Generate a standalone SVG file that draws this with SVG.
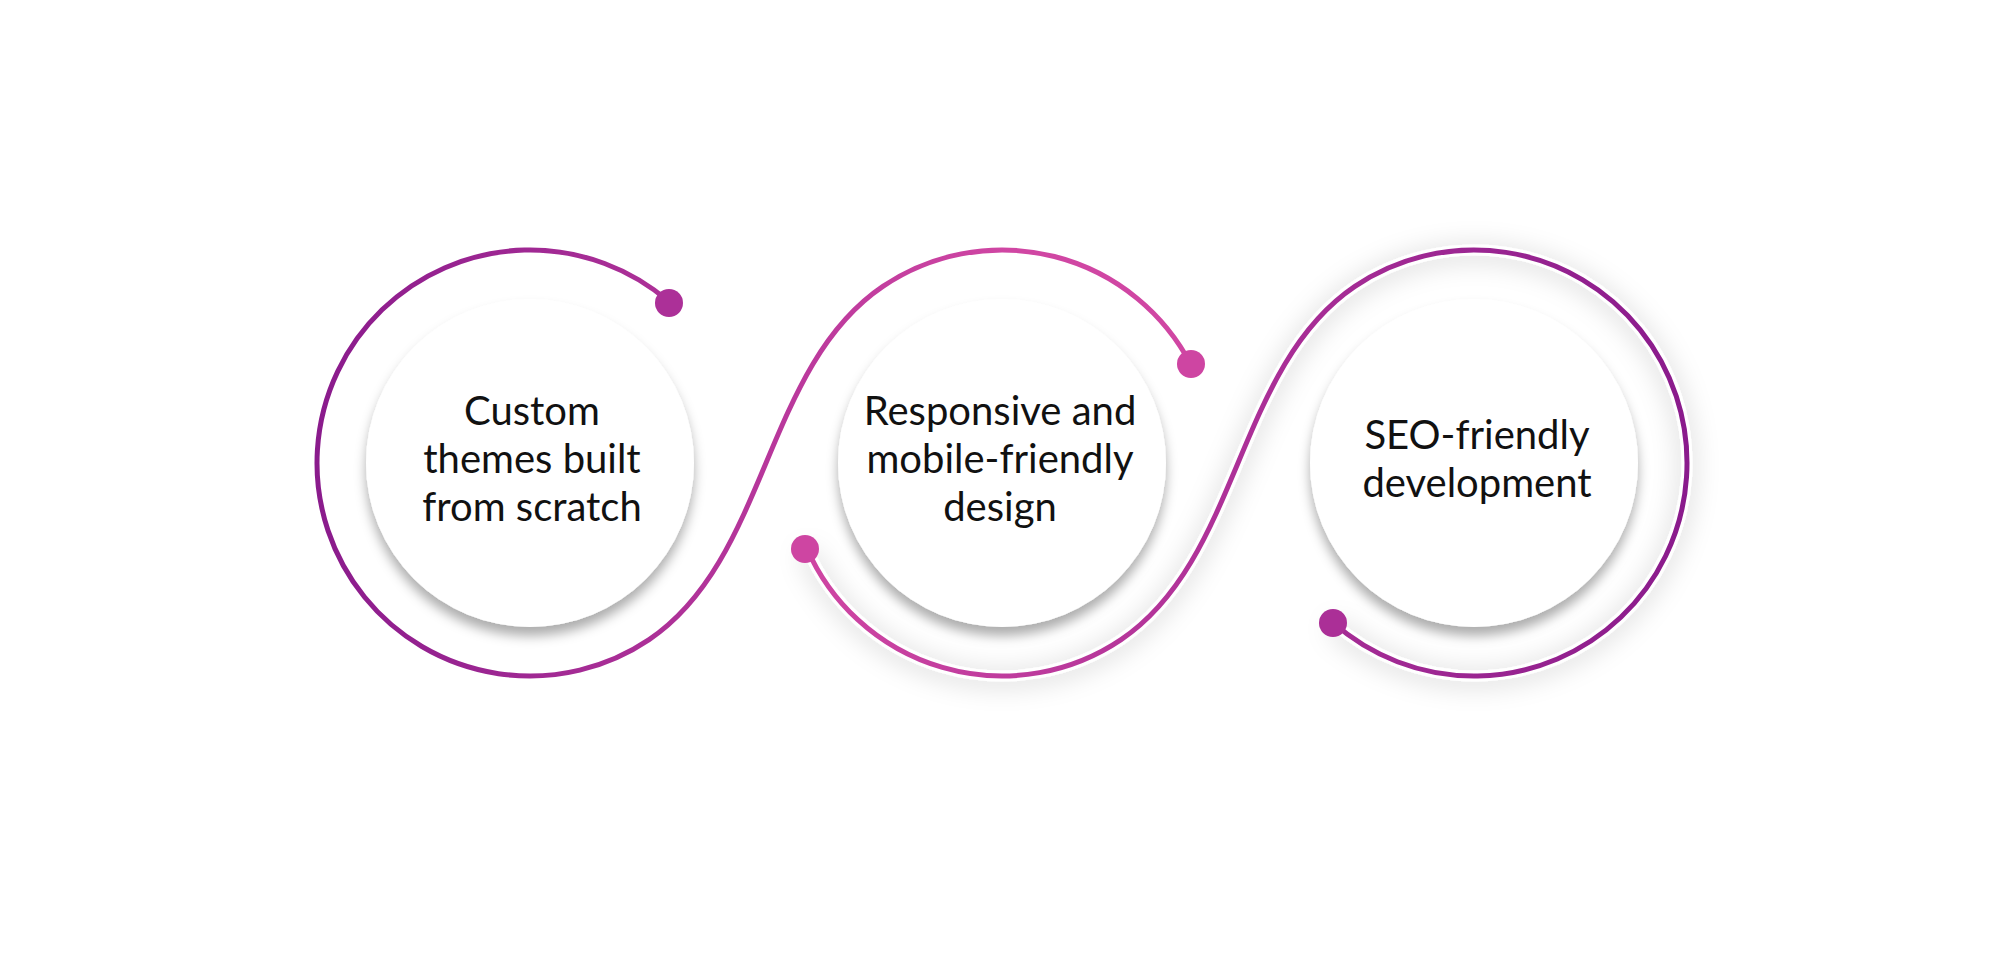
<svg xmlns="http://www.w3.org/2000/svg" width="2000" height="964" viewBox="0 0 2000 964">
  <defs>
    <linearGradient id="gA" gradientUnits="userSpaceOnUse" x1="316" y1="0" x2="1010" y2="0">
      <stop offset="0" stop-color="#8A1B8C"/>
      <stop offset="1" stop-color="#D046A3"/>
    </linearGradient>
    <linearGradient id="gB" gradientUnits="userSpaceOnUse" x1="790" y1="0" x2="1687" y2="0">
      <stop offset="0" stop-color="#D046A3"/>
      <stop offset="1" stop-color="#8A1B8C"/>
    </linearGradient>
    <filter id="circleShadow" x="-30%" y="-30%" width="160%" height="160%">
      <feDropShadow dx="0" dy="9" stdDeviation="6" flood-color="#000" flood-opacity="0.32"/>
    </filter>
    <filter id="ribbonShadow" filterUnits="userSpaceOnUse" x="700" y="180" width="1060" height="580">
      <feDropShadow dx="0" dy="3" stdDeviation="13" flood-color="#000" flood-opacity="0.2"/>
    </filter>
    <style>
      .inner { fill: #ffffff; filter: url(#circleShadow); }
      .line { fill: none; stroke-width: 5; stroke-linecap: round; }
      .ribbon { fill: none; stroke: #ffffff; stroke-width: 11; filter: url(#ribbonShadow); }
      .label { font-family: Lato, "Open Sans", "Liberation Sans", sans-serif; font-size: 40px; fill: #111111; text-anchor: middle; }
    </style>
  </defs>

  <rect width="2000" height="964" fill="#ffffff"/>

  <!-- soft shadowed ribbon under the second connector -->
  <path class="ribbon" d="M806.7,547.9 A213,213 0 0 0 1121.1,639.6 C1240.5,559.1 1235.5,366.9 1354.9,286.4 A213,213 0 1 1 1332.5,622.2"/>

  <g id="node1">
    <circle class="inner" cx="530" cy="463" r="164"/>
    <text class="label" x="532" y="425">Custom</text>
    <text class="label" x="532" y="473">themes built</text>
    <text class="label" x="532" y="521">from scratch</text>
  </g>

  <g id="node2">
    <circle class="inner" cx="1002" cy="463" r="164"/>
    <text class="label" x="1000" y="425">Responsive and</text>
    <text class="label" x="1000" y="473">mobile-friendly</text>
    <text class="label" x="1000" y="521">design</text>
  </g>

  <g id="node3">
    <circle class="inner" cx="1474" cy="463" r="164"/>
    <text class="label" x="1477" y="449">SEO-friendly</text>
    <text class="label" x="1477" y="497">development</text>
  </g>

  <g id="connectors">
    <path class="line" stroke="url(#gA)" d="M669.7,302.2 A213,213 0 1 0 649.1,639.6 C768.5,559.1 763.5,366.9 882.9,286.4 A213,213 0 0 1 1190.9,364.6"/>
    <circle cx="669" cy="303" r="14" fill="#AC3098"/>
    <circle cx="1191" cy="364" r="14" fill="#CE45A2"/>
    <path class="line" stroke="url(#gB)" d="M806.7,547.9 A213,213 0 0 0 1121.1,639.6 C1240.5,559.1 1235.5,366.9 1354.9,286.4 A213,213 0 1 1 1332.5,622.2"/>
    <circle cx="805" cy="549" r="14" fill="#CE45A2"/>
    <circle cx="1333" cy="623" r="14" fill="#AB2F97"/>
  </g>
</svg>
